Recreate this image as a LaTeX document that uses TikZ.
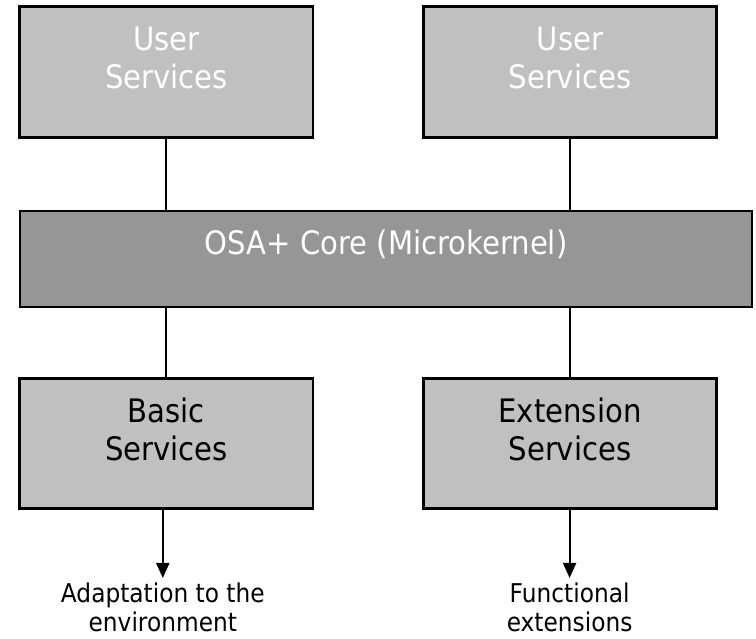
\documentclass[tikz,border=0pt]{standalone}
\usepackage{fontspec}
\setmainfont{DejaVu Sans}[FakeStretch=0.9]
\usetikzlibrary{arrows.meta}
\definecolor{svcgray}{RGB}{192,192,192}
\definecolor{coregray}{RGB}{150,150,150}
\begin{document}
\begin{tikzpicture}[
  svc/.style={draw, line width=1.9pt, fill=svcgray, minimum width=7.33cm, minimum height=3.26cm, inner sep=0},
  core/.style={draw, line width=1.9pt, fill=coregray, minimum width=18.3cm, minimum height=2.4cm, inner sep=0},
  big/.style={font=\fontsize{23}{27}\selectfont, align=center},
  small/.style={font=\fontsize{18.4}{21}\selectfont, align=center, inner sep=0.05cm, outer ysep=0.07cm},
  link/.style={line width=1.4pt},
  arr/.style={line width=1.4pt, -{Triangle[width=0.33cm,length=0.38cm]}}
]
\useasboundingbox (0,0) rectangle (18.9,15.95);

\node[svc, label={[big,text=white,yshift=0.36cm]center:{User\\Services}}] (us1) at (4.16,14.15) {};
\node[svc, label={[big,text=white,yshift=0.36cm]center:{User\\Services}}] (us2) at (14.25,14.15) {};

\node[core, label={[big,text=white,yshift=0.36cm]center:{OSA+ Core (Microkernel)}}] (core) at (9.65,9.475) {};

\node[svc, label={[big,yshift=0.36cm]center:{Basic\\Services}}] (bs) at (4.16,4.86) {};
\node[svc, label={[big,yshift=0.36cm]center:{Extension\\Services}}] (es) at (14.25,4.86) {};

\node[small, anchor=north] (adapt) at (4.07,1.5) {Adaptation to the\\environment};
\node[small, anchor=north] (func) at (14.24,1.5) {Functional\\extensions};

\draw[link] (us1.south) -- (us1.south |- core.north);
\draw[link] (us2.south) -- (us2.south |- core.north);
\draw[link] (core.south -| bs.north) -- (bs.north);
\draw[link] (core.south -| es.north) -- (es.north);

\draw[arr] (adapt.north |- bs.south) -- (adapt.north);
\draw[arr] (func.north |- es.south) -- (func.north);
\end{tikzpicture}
\end{document}
